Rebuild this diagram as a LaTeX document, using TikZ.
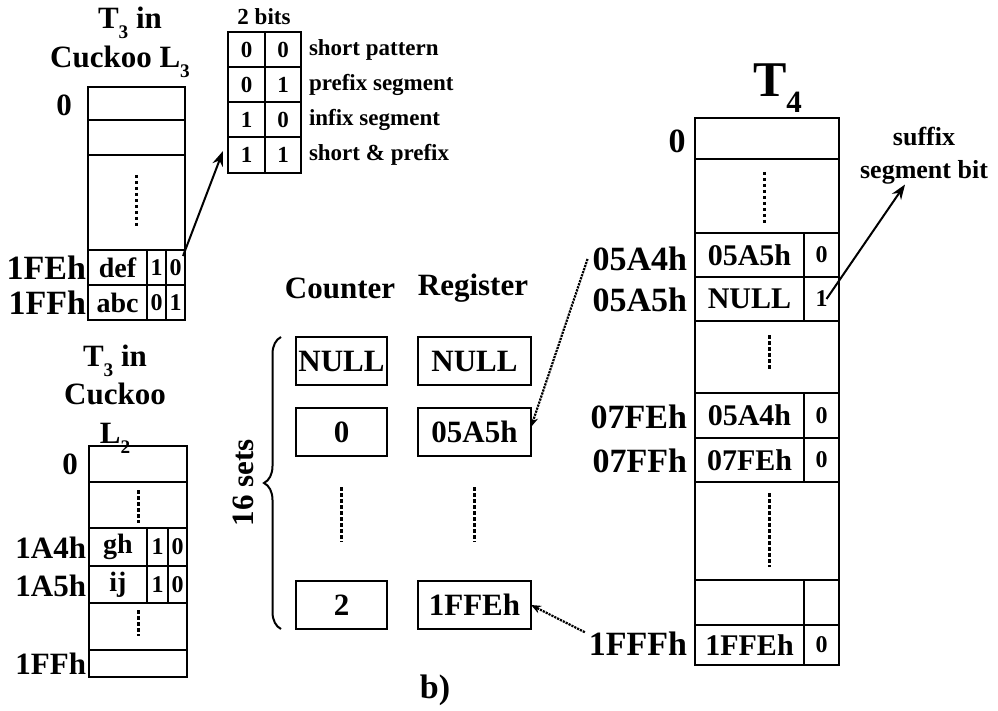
\documentclass[tikz,border=0pt]{standalone}
\usepackage{fontspec}
\setmainfont{Liberation Serif}
\usetikzlibrary{positioning,arrows.meta,decorations.pathreplacing}

\newcommand\lowsub[1]{\raisebox{-0.32em}{\scalebox{0.62}{#1}}}

\begin{document}
\begin{tikzpicture}[x=1pt, y=-1pt, >=Stealth,
  every node/.style={inner sep=0pt, outer sep=0pt},
  cell/.style={draw, line width=2.2pt, anchor=north west},
  big/.style={font=\fontsize{31}{39}\selectfont\bfseries},
  lbl/.style={font=\fontsize{34}{38}\selectfont\bfseries},
  txt/.style={font=\fontsize{28}{32}\selectfont\bfseries},
  hex/.style={font=\fontsize{30}{34}\selectfont\bfseries},
  bit/.style={font=\fontsize{24}{28}\selectfont\bfseries},
  small/.style={font=\fontsize{23}{28}\selectfont\bfseries},
  box/.style={draw, line width=2.4pt, minimum height=48pt,
              font=\fontsize{31}{36}\selectfont\bfseries},
  gapdots/.style={line width=3pt, dash pattern=on 3.5pt off 2.5pt},
  ptr/.style={->, line width=2pt, >={Stealth[length=15pt,width=11pt]}},
  dptr/.style={->, line width=2.2pt, densely dotted,
               >={Stealth[length=10pt,width=8pt]}}]

  \useasboundingbox (0,0) rectangle (998,711);

  %% --- T3 in Cuckoo L3 -------------------------------------------------
  \node[big] (t3a) at (130,23) {T\lowsub{3} in};
  \node[big] (t3b) at (120,62) {Cuckoo L\lowsub{3}};
  \node[cell, minimum width=97pt, minimum height=33pt] (la0) at (88,87) {};
  \node[cell, minimum width=97pt, minimum height=35pt] (la1) at (88,120) {};
  \node[cell, minimum width=97pt, minimum height=95pt] (la2) at (88,155) {};
  \node[cell, txt, minimum width=59pt, minimum height=35pt] (la3) at (88,250) {def};
  \node[cell, bit, minimum width=19pt, minimum height=35pt] (la3a) at (147,250) {1};
  \node[cell, bit, minimum width=19pt, minimum height=35pt] (la3b) at (166,250) {0};
  \node[cell, txt, minimum width=59pt, minimum height=35pt] (la4) at (88,285) {abc};
  \node[cell, bit, minimum width=19pt, minimum height=35pt] (la4a) at (147,285) {0};
  \node[cell, bit, minimum width=19pt, minimum height=35pt] (la4b) at (166,285) {1};
  \draw[gapdots] ([yshift=-20pt]la2.north) -- ([yshift=22pt]la2.south);
  \node[big] (la0l) at (64,105) {0};
  \node[lbl, anchor=east] (la3l) at (86,268) {1FEh};
  \node[lbl, anchor=east] (la4l) at (86,303) {1FFh};

  %% --- 2 bits legend ----------------------------------------------------
  \node[small] (bttl) at (264,17) {2 bits};
  \node[cell, small, minimum width=37pt, minimum height=35pt] (b0a) at (228,32) {0};
  \node[cell, small, minimum width=36pt, minimum height=35pt] (b0b) at (265,32) {0};
  \node[cell, small, minimum width=37pt, minimum height=35pt] (b1a) at (228,67) {0};
  \node[cell, small, minimum width=36pt, minimum height=35pt] (b1b) at (265,67) {1};
  \node[cell, small, minimum width=37pt, minimum height=35pt] (b2a) at (228,102) {1};
  \node[cell, small, minimum width=36pt, minimum height=35pt] (b2b) at (265,102) {0};
  \node[cell, small, minimum width=37pt, minimum height=36pt] (b3a) at (228,137) {1};
  \node[cell, small, minimum width=36pt, minimum height=36pt] (b3b) at (265,137) {1};
  \node[small, anchor=west] (b0l) at (309,50) {short pattern};
  \node[small, anchor=west] (b1l) at (309,85) {prefix segment};
  \node[small, anchor=west] (b2l) at (309,120) {infix segment};
  \node[small, anchor=west] (b3l) at (309,155) {short \& prefix};
  \draw[ptr] ([shift={(-2pt,-6pt)}]la3b.north east) -- ([shift={(-5pt,4pt)}]b3a.west);

  %% --- T3 in Cuckoo L2 -------------------------------------------------
  \node[big, align=center, font=\fontsize{31}{38.5}\selectfont\bfseries] (t3c) at (115,399)
      {T\lowsub{3} in\\Cuckoo\\L\lowsub{2}};
  \node[cell, minimum width=98pt, minimum height=36pt] (lb0) at (89,446) {};
  \node[cell, minimum width=98pt, minimum height=46pt] (lb1) at (89,482) {};
  \node[cell, txt, minimum width=58pt, minimum height=38pt] (lb2) at (89,528) {gh};
  \node[cell, bit, minimum width=21pt, minimum height=38pt] (lb2a) at (147,528) {1};
  \node[cell, bit, minimum width=19pt, minimum height=38pt] (lb2b) at (168,528) {0};
  \node[cell, txt, minimum width=58pt, minimum height=37pt] (lb3) at (89,566) {ij};
  \node[cell, bit, minimum width=21pt, minimum height=37pt] (lb3a) at (147,566) {1};
  \node[cell, bit, minimum width=19pt, minimum height=37pt] (lb3b) at (168,566) {0};
  \node[cell, minimum width=98pt, minimum height=47pt] (lb4) at (89,603) {};
  \node[cell, minimum width=98pt, minimum height=27pt] (lb5) at (89,650) {};
  \draw[gapdots] ([yshift=-8pt]lb1.north) -- ([yshift=5pt]lb1.south);
  \draw[gapdots] ([yshift=-7pt]lb4.north) -- ([yshift=14pt]lb4.south);
  \node[big] (lb0l) at (70,464) {0};
  \node[big, anchor=east] (lb2l) at (86,548) {1A4h};
  \node[big, anchor=east] (lb3l) at (86,586) {1A5h};
  \node[big, anchor=east] (lb5l) at (86,664) {1FFh};

  %% --- Counter / Register ------------------------------------------------
  \node[big] (cnt) at (340,288) {Counter};
  \node[big] (reg) at (473,288) {Register};
  \node[box, minimum width=91pt] (c0) at (341.5,361) {NULL};
  \node[box, minimum width=113pt] (r0) at (474.5,361) {NULL};
  \node[box, minimum width=91pt] (c1) at (341.5,432) {0};
  \node[box, minimum width=113pt] (r1) at (474.5,432) {05A5h};
  \node[box, minimum width=91pt] (c3) at (341.5,605) {2};
  \node[box, minimum width=113pt] (r3) at (474.5,605) {1FFEh};
  \draw[gapdots] ([yshift=-31pt]c1.south) -- ([yshift=39pt]c3.north);
  \draw[gapdots] ([yshift=-31pt]r1.south) -- ([yshift=39pt]r3.north);
  \draw[line width=2pt, decorate, decoration={brace, amplitude=17pt}]
      ([xshift=-15pt]c3.south west) -- ([xshift=-15pt]c0.north west);
  \node[big, rotate=90] (sets) at (243,483) {16 sets};
  \node[lbl] (bcap) at (435,690) {b)};

  %% --- T4 ------------------------------------------------------------------
  \node[font=\fontsize{50}{56}\selectfont\bfseries, anchor=base west] (t4) at (753,97) {T\lowsub{4}};
  \node[cell, minimum width=144pt, minimum height=41pt] (ta0) at (695,118) {};
  \node[cell, minimum width=144pt, minimum height=74pt] (ta1) at (695,159) {};
  \node[cell, hex, minimum width=109pt, minimum height=44pt] (ta2) at (695,233) {05A5h};
  \node[cell, bit, minimum width=35pt, minimum height=44pt] (ta2b) at (804,233) {0};
  \node[cell, hex, minimum width=109pt, minimum height=44pt] (ta3) at (695,277) {NULL};
  \node[cell, bit, minimum width=35pt, minimum height=44pt] (ta3b) at (804,277) {1};
  \node[cell, minimum width=144pt, minimum height=72pt] (ta4) at (695,321) {};
  \node[cell, hex, minimum width=109pt, minimum height=45pt] (ta5) at (695,393) {05A4h};
  \node[cell, bit, minimum width=35pt, minimum height=45pt] (ta5b) at (804,393) {0};
  \node[cell, hex, minimum width=109pt, minimum height=44pt] (ta6) at (695,438) {07FEh};
  \node[cell, bit, minimum width=35pt, minimum height=44pt] (ta6b) at (804,438) {0};
  \node[cell, minimum width=144pt, minimum height=98pt] (ta7) at (695,482) {};
  \node[cell, minimum width=109pt, minimum height=45pt] (ta8) at (695,580) {};
  \node[cell, minimum width=35pt, minimum height=45pt] (ta8b) at (804,580) {};
  \node[cell, hex, minimum width=109pt, minimum height=40pt] (ta9) at (695,625) {1FFEh};
  \node[cell, bit, minimum width=35pt, minimum height=40pt] (ta9b) at (804,625) {0};
  \draw[gapdots] ([shift={(-3pt,-13pt)}]ta1.north) -- ([shift={(-3pt,10pt)}]ta1.south);
  \draw[gapdots] ([shift={(2pt,-14pt)}]ta4.north) -- ([shift={(2pt,23pt)}]ta4.south);
  \draw[gapdots] ([shift={(2pt,-11pt)}]ta7.north) -- ([shift={(2pt,13pt)}]ta7.south);
  \node[lbl] (ta0l) at (677,141) {0};
  \node[lbl, anchor=east] (l05A4) at (687,259) {05A4h};
  \node[lbl, anchor=east] (l05A5) at (687,300) {05A5h};
  \node[lbl, anchor=east] (l07FE) at (687,417) {07FEh};
  \node[lbl, anchor=east] (l07FF) at (687,461) {07FFh};
  \node[lbl, anchor=east] (l1FFF) at (687,644) {1FFFh};
  \node[font=\fontsize{26}{33}\selectfont\bfseries, align=center] (sfx) at (924,156)
      {suffix\\segment bit};
  \draw[ptr] ([xshift=5pt]ta3b.center) -- ([xshift=-19pt]sfx.south);

  %% --- pointers into the registers ----------------------------------------
  \draw[dptr] ([xshift=-5pt]l05A4.west) -- ([yshift=5pt]r1.east);
  \draw[dptr] ([xshift=-4pt]l1FFF.north west) -- (r3.east);
\end{tikzpicture}
\end{document}
